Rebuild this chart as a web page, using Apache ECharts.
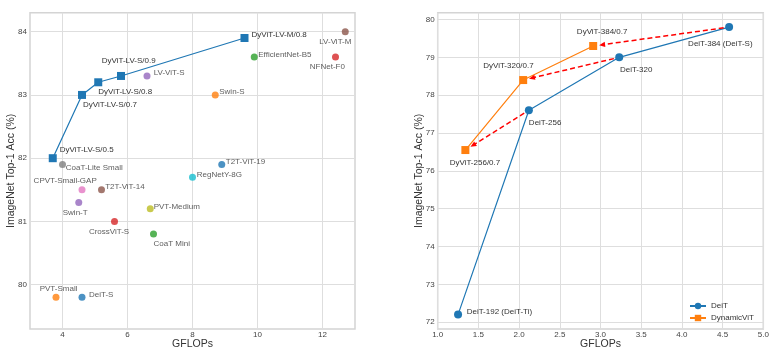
<!DOCTYPE html>
<html>
<head>
<meta charset="utf-8">
<script src="https://cdn.jsdelivr.net/npm/echarts@6/dist/echarts.min.js"></script>
<style>html,body{margin:0;padding:0;background:#fff}#c{width:778px;height:355px}</style>
</head>
<body>
<div id="c"></div>
<script>
// ---------- Left chart data ----------
const otherNames = ['DeiT-S','PVT-Small','CoaT Mini','CrossViT-S','Swin-T','T2T-ViT-14','CPVT-Small-GAP','CoaT-Lite Small','PVT-Medium','RegNetY-8G','T2T-ViT-19','Swin-S','EfficientNet-B5','NFNet-F0','LV-ViT-S','LV-ViT-M'];
const otherGflops = [4.6, 3.8, 6.8, 5.6, 4.5, 5.2, 4.6, 4.0, 6.7, 8.0, 8.9, 8.7, 9.9, 12.4, 6.6, 12.7];
const otherAcc = [79.8, 79.8, 80.8, 81.0, 81.3, 81.5, 81.5, 81.9, 81.2, 81.7, 81.9, 83.0, 83.6, 83.6, 83.3, 84.0];

const dyLvNames = ['DyViT-LV-S/0.5','DyViT-LV-S/0.7','DyViT-LV-S/0.8','DyViT-LV-S/0.9','DyViT-LV-M/0.8'];
const dyLvGflops = [3.7, 4.6, 5.1, 5.8, 9.6];
const dyLvAcc = [82.0, 83.0, 83.2, 83.3, 83.9];

const leftXTicks = [4, 6, 8, 10, 12];
const leftYTicks = [80, 81, 82, 83, 84];

// ---------- Right chart data ----------
const deitNames = ['DeiT-192 (DeiT-Ti)','DeiT-256','DeiT-320','DeiT-384 (DeiT-S)'];
const deitGflops = [1.25, 2.12, 3.23, 4.58];
const deitAcc = [72.2, 77.6, 79.0, 79.8];

const dynNames = ['DyViT-256/0.7','DyViT-320/0.7','DyViT-384/0.7'];
const dynGflops = [1.34, 2.05, 2.91];
const dynAcc = [76.55, 78.4, 79.3];

const rightYTicks = [72, 73, 74, 75, 76, 77, 78, 79, 80];

// ---------- Styles (not data) ----------
const tab10 = ['#1f77b4','#ff7f0e','#2ca02c','#d62728','#9467bd','#8c564b','#e377c2','#7f7f7f','#bcbd22','#17becf'];
const otherOffsets = [[7,-2.7],[-16.3,-8.7],[0,9.7],[-25.6,10.3],[-16,10.3],[3.7,-2.7],[-48.4,-9.3],[3.3,3.7],[3.4,-2.3],[4.3,-2.7],[4,-2.3],[4,-2.7],[4,-2],[-25.7,10],[6.7,-2.7],[-26,10]];
const dyLvOffsets = [[7,-8],[1,10],[0,9.5],[-19.3,-15],[7,-3]];
const deitOffsets = [[8.6,-2.6],[0,12.3],[0.7,12],[-41,16.7]];
const dynOffsets = [[-15.7,12.7],[-40,-14.3],[-16.3,-14]];

const FONT = '"Liberation Sans", Arial, sans-serif';
const TXT = '#333333';
const GRIDC = '#dedede';

function lbl(name, off) {
  return { show: true, formatter: name, position: 'inside', align: 'left', verticalAlign: 'middle',
    offset: off, fontSize: 8, color: TXT, fontFamily: FONT };
}
function makeItems(xs, ys, names, offs, colors) {
  return xs.map((x, i) => {
    const it = { value: [x, ys[i]], name: names[i], label: lbl(names[i], offs[i]) };
    if (colors) it.itemStyle = { color: colors[i % colors.length] };
    return it;
  });
}

function xAxisBase(gi, min, max) {
  return {
    gridIndex: gi, type: 'value', min: min, max: max,
    name: 'GFLOPs', nameLocation: 'middle', nameGap: 10, nameMoveOverlap: false,
    nameTextStyle: { fontSize: 10.5, color: TXT, fontFamily: FONT },
    axisLine: { show: false }, axisTick: { show: false },
    axisLabel: { fontSize: 8, color: '#444', fontFamily: FONT, margin: 2 },
    splitLine: { show: true, lineStyle: { color: GRIDC, width: 1 } }
  };
}
function yAxisBase(gi, min, max, ticks, gap) {
  return {
    gridIndex: gi, type: 'value', min: min, max: max,
    name: 'ImageNet Top-1 Acc (%)', nameLocation: 'middle', nameGap: gap, nameMoveOverlap: false,
    nameTextStyle: { fontSize: 10.5, color: TXT, fontFamily: FONT },
    axisLine: { show: false },
    axisTick: { show: false, customValues: ticks },
    axisLabel: { fontSize: 8, color: '#444', fontFamily: FONT, margin: 3, customValues: ticks },
    splitLine: { show: true, lineStyle: { color: GRIDC, width: 1 } }
  };
}

const lx = xAxisBase(0, 3, 13);
lx.axisTick.customValues = leftXTicks;
lx.axisLabel.customValues = leftXTicks;
const rx = xAxisBase(1, 1, 5);
rx.interval = 0.5;
rx.axisLabel.formatter = v => v.toFixed(1);

const arrowData = dynNames.map((n, i) => [deitGflops[i + 1], deitAcc[i + 1], dynGflops[i], dynAcc[i]]);

const option = {
  backgroundColor: '#ffffff',
  animation: false,
  textStyle: { fontFamily: FONT },
  grid: [
    { left: 30, top: 12.7, width: 325, height: 316.3, show: true, borderColor: '#d4d4d4', borderWidth: 1.5, backgroundColor: 'transparent' },
    { left: 437.7, top: 12.7, width: 325.6, height: 316.3, show: true, borderColor: '#d4d4d4', borderWidth: 1.5, backgroundColor: 'transparent' }
  ],
  xAxis: [lx, rx],
  yAxis: [yAxisBase(0, 79.3, 84.3, leftYTicks, 13), yAxisBase(1, 71.82, 80.18, rightYTicks, 13)],
  legend: {
    left: 689, top: 302, orient: 'vertical', padding: 0, itemGap: 4,
    itemWidth: 16, itemHeight: 8,
    textStyle: { fontSize: 8, color: TXT, fontFamily: FONT },
    data: ['DeiT', 'DynamicViT']
  },
  series: [
    {
      type: 'scatter', xAxisIndex: 0, yAxisIndex: 0, symbol: 'circle', symbolSize: 7,
      data: makeItems(otherGflops, otherAcc, otherNames, otherOffsets, tab10)
    },
    {
      type: 'line', xAxisIndex: 0, yAxisIndex: 0, symbol: 'rect', symbolSize: 8,
      lineStyle: { color: '#1f77b4', width: 1.2 }, itemStyle: { color: '#1f77b4' },
      data: makeItems(dyLvGflops, dyLvAcc, dyLvNames, dyLvOffsets)
    },
    {
      name: 'DeiT', type: 'line', xAxisIndex: 1, yAxisIndex: 1, symbol: 'circle', symbolSize: 8,
      lineStyle: { color: '#1f77b4', width: 1.2 }, itemStyle: { color: '#1f77b4' },
      data: makeItems(deitGflops, deitAcc, deitNames, deitOffsets)
    },
    {
      name: 'DynamicViT', type: 'line', xAxisIndex: 1, yAxisIndex: 1, symbol: 'rect', symbolSize: 8,
      lineStyle: { color: '#ff7f0e', width: 1.2 }, itemStyle: { color: '#ff7f0e' },
      data: makeItems(dynGflops, dynAcc, dynNames, dynOffsets)
    },
    {
      type: 'custom', xAxisIndex: 1, yAxisIndex: 1, silent: true, z: 5,
      data: arrowData,
      renderItem: function (params, api) {
        const p1 = api.coord([api.value(0), api.value(1)]);
        const p2 = api.coord([api.value(2), api.value(3)]);
        const dx = p2[0] - p1[0], dy = p2[1] - p1[1];
        const L = Math.sqrt(dx * dx + dy * dy);
        const ux = dx / L, uy = dy / L;
        const s = [p1[0] + ux * 5.5, p1[1] + uy * 5.5];
        const e = [p2[0] - ux * 6, p2[1] - uy * 6];
        const hl = 6, hw = 2.6;
        const b = [e[0] - ux * hl, e[1] - uy * hl];
        return {
          type: 'group',
          children: [
            { type: 'line', shape: { x1: s[0], y1: s[1], x2: b[0] + ux * 1, y2: b[1] + uy * 1 },
              style: { stroke: '#ff0000', lineWidth: 1.5, lineDash: [5, 3] } },
            { type: 'polygon', shape: { points: [e, [b[0] - uy * hw, b[1] + ux * hw], [b[0] + uy * hw, b[1] - ux * hw]] },
              style: { fill: '#ff0000' } }
          ]
        };
      }
    }
  ]
};

const chart = echarts.init(document.getElementById('c'), null, { renderer: 'canvas' });
chart.setOption(option);
</script>
</body>
</html>
